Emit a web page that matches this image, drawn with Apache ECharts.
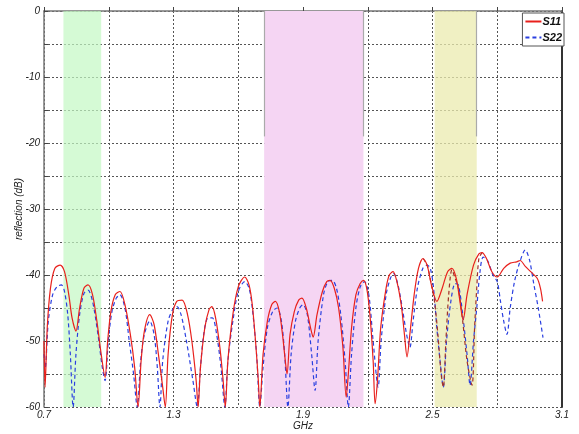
<!DOCTYPE html>
<html>
<head>
<meta charset="utf-8">
<script src="https://cdn.jsdelivr.net/npm/echarts@6/dist/echarts.min.js"></script>
<style>
html,body{margin:0;padding:0;background:#fff;}
#c{width:579px;height:434px;}
</style>
</head>
<body>
<div id="c"></div>
<script>
// ---- data (GHz, dB) ----
const xTicks = [0.7, 1.0, 1.3, 1.6, 1.9, 2.2, 2.5, 2.8, 3.1];
const xLabels = [0.7, 1.3, 1.9, 2.5, 3.1];
const yLabels = [-60, -50, -40, -30, -20, -10, 0];

const s11 = [
 [0.700,-50],[0.705,-57],[0.715,-48],[0.730,-42],[0.750,-39],[0.775,-38.5],[0.795,-39.5],
 [0.815,-43],[0.830,-46.5],[0.848,-48.5],[0.865,-45],[0.885,-42],[0.904,-41.5],[0.925,-43],
 [0.945,-47],[0.965,-52],[0.983,-55.5],[0.995,-50],[1.010,-45.5],[1.030,-43],[1.052,-42.5],
 [1.075,-44.5],[1.100,-49],[1.120,-54],[1.136,-60],[1.150,-53],[1.165,-48.5],[1.190,-46],
 [1.210,-47.5],[1.230,-52],[1.250,-57],[1.262,-60],[1.275,-52],[1.295,-46],[1.315,-44],
 [1.340,-43.8],[1.365,-46],[1.385,-50],[1.405,-56],[1.414,-60],[1.425,-54],[1.445,-48],
 [1.465,-45.2],[1.478,-44.8],[1.495,-46.5],[1.515,-51],[1.530,-56],[1.540,-60],[1.552,-53],
 [1.575,-46],[1.600,-41.8],[1.630,-40.3],[1.650,-41.5],[1.665,-44.5],[1.680,-50],[1.693,-56],
 [1.700,-60],[1.715,-52],[1.735,-47],[1.755,-44.5],[1.772,-44],[1.790,-45.5],[1.805,-49],
 [1.818,-53],[1.826,-55],[1.840,-49],[1.860,-45.5],[1.880,-43.8],[1.895,-43.5],[1.915,-45],
 [1.935,-48],[1.947,-49.4],[1.965,-46],[1.990,-42.5],[2.010,-41],[2.025,-40.8],[2.045,-42],
 [2.065,-45],[2.085,-51],[2.100,-58.5],[2.110,-55],[2.125,-48],[2.145,-43],[2.165,-41.3],
 [2.180,-40.8],[2.195,-42],[2.210,-46],[2.225,-53],[2.234,-59.5],[2.245,-56],[2.260,-48],
 [2.285,-42],[2.300,-40],[2.317,-39.5],[2.335,-41],[2.355,-44.5],[2.370,-49],[2.382,-52.4],
 [2.395,-49],[2.415,-43],[2.435,-39],[2.456,-37.5],[2.475,-38.5],[2.495,-41.5],[2.520,-44],
 [2.545,-42],[2.570,-39.5],[2.590,-39],[2.610,-40.5],[2.625,-43.5],[2.642,-46.8],[2.660,-43],
 [2.690,-38.5],[2.715,-36.8],[2.730,-36.6],[2.750,-37.5],[2.775,-39.5],[2.800,-40.3],
 [2.830,-39],[2.860,-38.2],[2.890,-38],[2.906,-37.8],[2.930,-38.7],[2.955,-39.5],[2.985,-40.5],
 [3.000,-42],[3.010,-44]
];

const s22 = [
 [0.700,-52],[0.706,-54],[0.720,-47],[0.740,-43],[0.760,-41.8],[0.780,-41.5],[0.795,-42.5],
 [0.810,-46],[0.822,-52],[0.835,-60],[0.848,-52],[0.865,-46],[0.885,-42.8],[0.904,-42.3],
 [0.925,-44],[0.950,-49],[0.970,-54],[0.983,-56],[0.998,-50],[1.015,-45.5],[1.035,-43.5],
 [1.052,-43],[1.075,-45],[1.095,-50],[1.115,-55],[1.132,-60],[1.148,-53],[1.165,-49],
 [1.190,-47],[1.210,-49],[1.225,-54],[1.237,-60],[1.250,-53],[1.275,-47],[1.300,-45],
 [1.316,-44.8],[1.335,-46],[1.360,-50],[1.390,-56],[1.410,-60],[1.425,-54],[1.440,-49],
 [1.460,-46.5],[1.480,-46.5],[1.500,-49],[1.520,-54],[1.538,-60],[1.552,-53],[1.575,-47],
 [1.600,-42.5],[1.630,-41],[1.650,-42],[1.665,-45],[1.685,-52],[1.700,-60],[1.715,-54],
 [1.735,-48],[1.760,-45.5],[1.780,-45],[1.800,-47],[1.815,-52],[1.830,-60],[1.845,-52],
 [1.865,-47],[1.885,-45],[1.900,-44.5],[1.920,-46],[1.940,-52],[1.956,-57.5],[1.970,-50],
 [1.995,-43],[2.015,-41],[2.035,-40.8],[2.055,-42],[2.075,-46],[2.095,-53],[2.110,-60],
 [2.125,-52],[2.145,-45],[2.165,-41.8],[2.185,-41],[2.205,-43],[2.225,-50],[2.248,-57],
 [2.262,-50],[2.285,-43],[2.305,-40.5],[2.320,-39.8],[2.340,-41.5],[2.360,-45],[2.380,-49],
 [2.395,-51],[2.410,-47],[2.430,-42],[2.455,-39],[2.475,-38.5],[2.490,-39],[2.505,-42],
 [2.520,-48],[2.535,-53],[2.550,-57],[2.565,-50],[2.585,-44],[2.605,-41.3],[2.620,-41.5],
 [2.640,-46],[2.660,-52],[2.674,-56.7],[2.690,-50],[2.705,-45],[2.720,-39.5],[2.735,-37.3],
 [2.755,-37.8],[2.780,-40],[2.800,-41],[2.815,-44],[2.830,-47],[2.845,-49],[2.860,-45],
 [2.880,-41],[2.900,-38.5],[2.930,-36.2],[2.950,-37.8],[2.970,-41.5],[2.990,-45],[3.012,-49.5]
];

// dark dashed trace visible in the 2.5–2.7 GHz band
const s11b = [
 [2.456,-37.5],[2.475,-38.5],[2.495,-41.5],[2.510,-44.2],[2.525,-49],[2.540,-55],[2.550,-57],
 [2.562,-50],[2.575,-43],[2.590,-39.2],[2.605,-40.5],[2.620,-42],[2.640,-47],[2.660,-53],
 [2.683,-56.7],[2.695,-48],[2.705,-42],[2.715,-37.5],[2.730,-36.6]
];

const bandGreen = [0.79, 0.965];
const bandPink = [1.72, 2.18];
const bandYellow = [2.51, 2.705];
const edgeTop = 0, edgeBottom = -19;
const edgeXs = [1.72, 2.18, 2.705];

const font = 'Liberation Sans';
const chart = echarts.init(document.getElementById('c'));
chart.setOption({
  animation: false,
  backgroundColor: '#fff',
  grid: { left: 44, right: 17, top: 11, bottom: 27, containLabel: false, outerBoundsMode: 'none' },
  legend: {
    data: ['S11', 'S22'],
    orient: 'vertical',
    right: 15, top: 13,
    itemWidth: 16, itemHeight: 6, itemGap: 5,
    padding: [3, 2, 3, 2],
    backgroundColor: '#fff',
    borderColor: '#555', borderWidth: 1,
    itemStyle: { opacity: 0 },
    textStyle: { fontFamily: font, fontStyle: 'italic', fontWeight: 'bold', fontSize: 11, color: '#111', padding: [0,0,0,-4] }
  },
  xAxis: [{
    type: 'value', min: 0.7, max: 3.1,
    name: 'GHz', nameLocation: 'middle', nameGap: 14, nameMoveOverlap: false,
    nameTextStyle: { fontFamily: font, fontStyle: 'italic', fontSize: 10, color: '#222' },
    axisLine: { lineStyle: { color: '#777', width: 1.5 } },
    axisTick: { inside: true, length: 4, customValues: xTicks, lineStyle: { color: '#444' } },
    axisLabel: { customValues: xLabels, fontFamily: font, fontStyle: 'italic', fontSize: 10, color: '#222', margin: 3,
      formatter: v => v.toFixed(1) },
    splitLine: { show: true, lineStyle: { color: '#555', type: [2, 2], width: 1 } }
  }],
  yAxis: [{
    type: 'value', min: -60, max: 0, interval: 5,
    name: 'reflection (dB)', nameLocation: 'middle', nameGap: 20, nameRotate: 90, nameMoveOverlap: false,
    nameTextStyle: { fontFamily: font, fontStyle: 'italic', fontSize: 10, color: '#222' },
    axisLine: { show: true, lineStyle: { color: '#777', width: 1.5 } },
    axisTick: { inside: true, length: 4, lineStyle: { color: '#444' } },
    axisLabel: { customValues: yLabels, fontFamily: font, fontStyle: 'italic', fontSize: 10, color: '#222', margin: 4 },
    splitLine: { show: true, lineStyle: { color: '#555', type: [2, 2], width: 1 } }
  }, {
    type: 'value', min: -60, max: 0, position: 'right',
    axisLine: { show: true, lineStyle: { color: '#333', width: 2 } },
    axisTick: { show: false }, axisLabel: { show: false }, splitLine: { show: false }
  }],
  series: [
    {
      name: 'bands', type: 'line', data: [], silent: true, z: 1,
      markArea: {
        silent: true,
        data: [
          [{ xAxis: bandGreen[0], itemStyle: { color: 'rgba(195,248,195,0.7)' } }, { xAxis: bandGreen[1] }],
          [{ xAxis: bandPink[0], itemStyle: { color: 'rgb(245,213,243)' } }, { xAxis: bandPink[1] }],
          [{ xAxis: bandYellow[0], itemStyle: { color: 'rgba(235,235,175,0.75)' } }, { xAxis: bandYellow[1] }]
        ]
      },
      markLine: {
        silent: true, symbol: 'none', label: { show: false },
        lineStyle: { color: '#aaa', type: 'solid', width: 1.2 },
        data: edgeXs.map(x => [{ coord: [x, edgeTop] }, { coord: [x, edgeBottom] }])
      }
    },
    {
      name: 'S11', type: 'line', data: s11, symbol: 'none', smooth: 0.3, z: 4,
      lineStyle: { color: '#e8201c', width: 1.2 }, itemStyle: { color: '#c0201c' }
    },
    {
      name: 'S22', type: 'line', data: s22, symbol: 'none', smooth: 0.3, z: 3,
      lineStyle: { color: '#2a3fe0', width: 1.2, type: [4, 3] }, itemStyle: { color: '#2a3fe0' }
    },
    {
      name: 'S11b', type: 'line', data: s11b, symbol: 'none', smooth: 0.3, z: 3,
      lineStyle: { color: '#a0302a', width: 1.2, type: [4, 3] }
    }
  ]
});
</script>
</body>
</html>
